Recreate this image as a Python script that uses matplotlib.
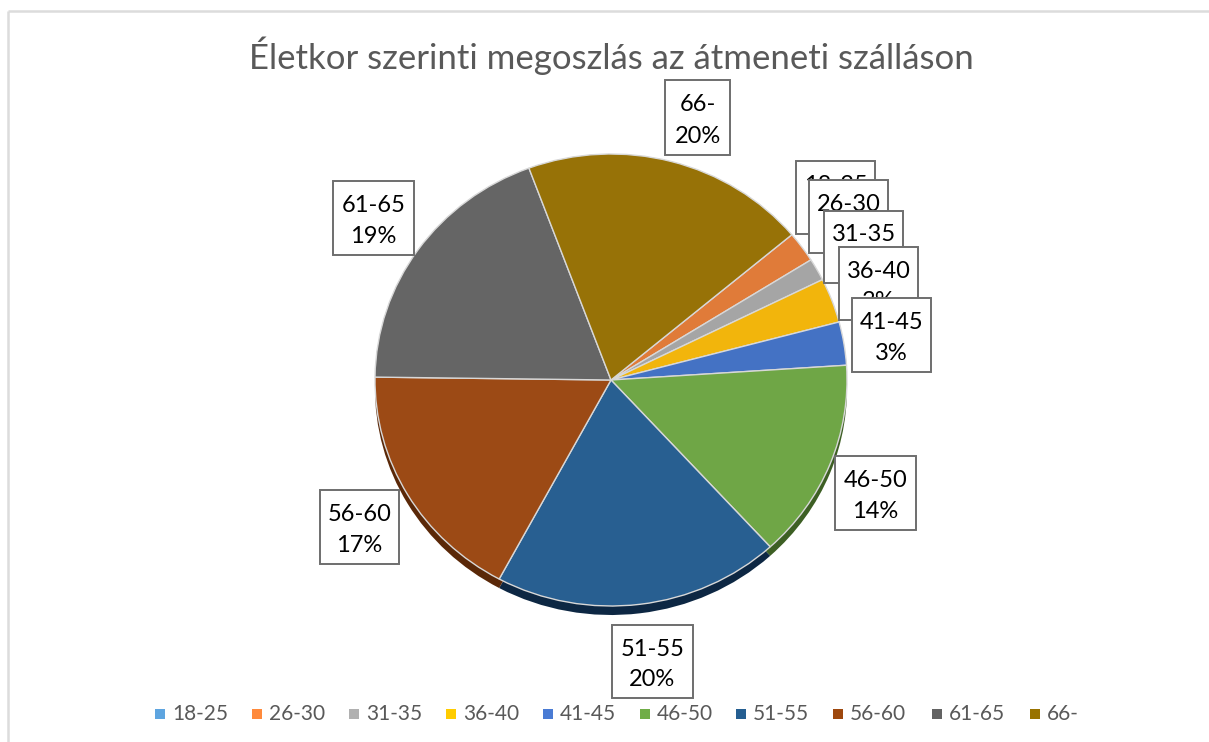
import matplotlib
matplotlib.use('Agg')
import matplotlib.pyplot as plt
from matplotlib.patches import Rectangle

plt.rcParams['font.family'] = ['Lato', 'DejaVu Sans']

title = 'Életkor szerinti megoszlás az átmeneti szálláson'
labels = ['18-25', '26-30', '31-35', '36-40', '41-45', '46-50', '51-55', '56-60', '61-65', '66-']
values = [0.0, 2.2, 1.6, 3.2, 3.1, 14.3, 19.7, 17.4, 19.2, 19.6]

colors = ['#5b9bd5', '#e07b39', '#a5a5a5', '#f2b50c', '#4472c4', '#6fa646', '#285f91', '#9c4a15', '#656565', '#977207']
dark = ['#2c5473', '#7a3f17', '#555555', '#7a5d05', '#22396a', '#3d5f24', '#0d2743', '#5a2808', '#333333', '#4f3c03']
legend_colors = ['#5ea5e0', '#ff8a3c', '#b0b0b0', '#ffcc00', '#4a7bd4', '#70ad47', '#255e91', '#9e480e', '#636363', '#997300']

# label boxes in pixels: left, right, top, bottom
boxes = [(796, 875, 161, 234), (809, 888, 180, 253), (824, 903, 211, 283),
         (839, 918, 247, 320), (852, 931, 298, 372), (835, 916, 456, 530),
         (612, 693, 625, 698), (320, 399, 490, 564), (333, 414, 181, 255),
         (665, 730, 80, 155)]
legend_x = [155, 252, 349, 446, 543, 640, 736, 833, 932, 1030]

W, H = 1209, 742
cx, cy, rx, ry = 611, 380, 236, 226
depth = 9
start = 90 - 50

fig = plt.figure(figsize=(W / 100, H / 100), dpi=100)

# pie axes, stretched a bit because the original is tilted
ax = fig.add_axes([0, 0, 1, 1])
ax.pie(values, colors=dark, startangle=start, counterclock=False,
       center=(0, -depth / ry), wedgeprops={'linewidth': 0})
ax.pie(values, colors=colors, startangle=start, counterclock=False,
       wedgeprops={'linewidth': 1, 'edgecolor': '#d8d8d8'})
ax.set_aspect('auto')
ax.set_xlim(-cx / rx, (W - cx) / rx)
ax.set_ylim(-(H - cy) / ry, cy / ry)
ax.axis('off')

# overlay in pixel coordinates
top = fig.add_axes([0, 0, 1, 1])
top.set_xlim(0, W)
top.set_ylim(H, 0)
top.axis('off')
top.patch.set_alpha(0)

top.plot([8, W], [11, 11], color='#dcdcdc', lw=1.8, solid_capstyle='butt')
top.plot([8, 8], [11, H], color='#dcdcdc', lw=1.8, solid_capstyle='butt')

top.text(611, 56, title, ha='center', va='center', fontsize=25, color='#595959')

for i in range(len(labels)):
    l, r, t, b = boxes[i]
    top.add_patch(Rectangle((l, t), r - l, b - t, facecolor='white', edgecolor='#6e6e6e',
                            lw=1.4, zorder=3 + i))
    top.text((l + r) / 2, t + (b - t) * 0.33, labels[i], ha='center', va='center',
             fontsize=17, color='black', zorder=3 + i)
    top.text((l + r) / 2, t + (b - t) * 0.75, '%.0f%%' % values[i], ha='center', va='center',
             fontsize=17, color='black', zorder=3 + i)

for i in range(len(labels)):
    top.add_patch(Rectangle((legend_x[i], 709), 10, 10, facecolor=legend_colors[i], edgecolor='none'))
    top.text(legend_x[i] + 17, 714, labels[i], ha='left', va='center', fontsize=15, color='#595959')

fig.savefig('out.png', dpi=100)
